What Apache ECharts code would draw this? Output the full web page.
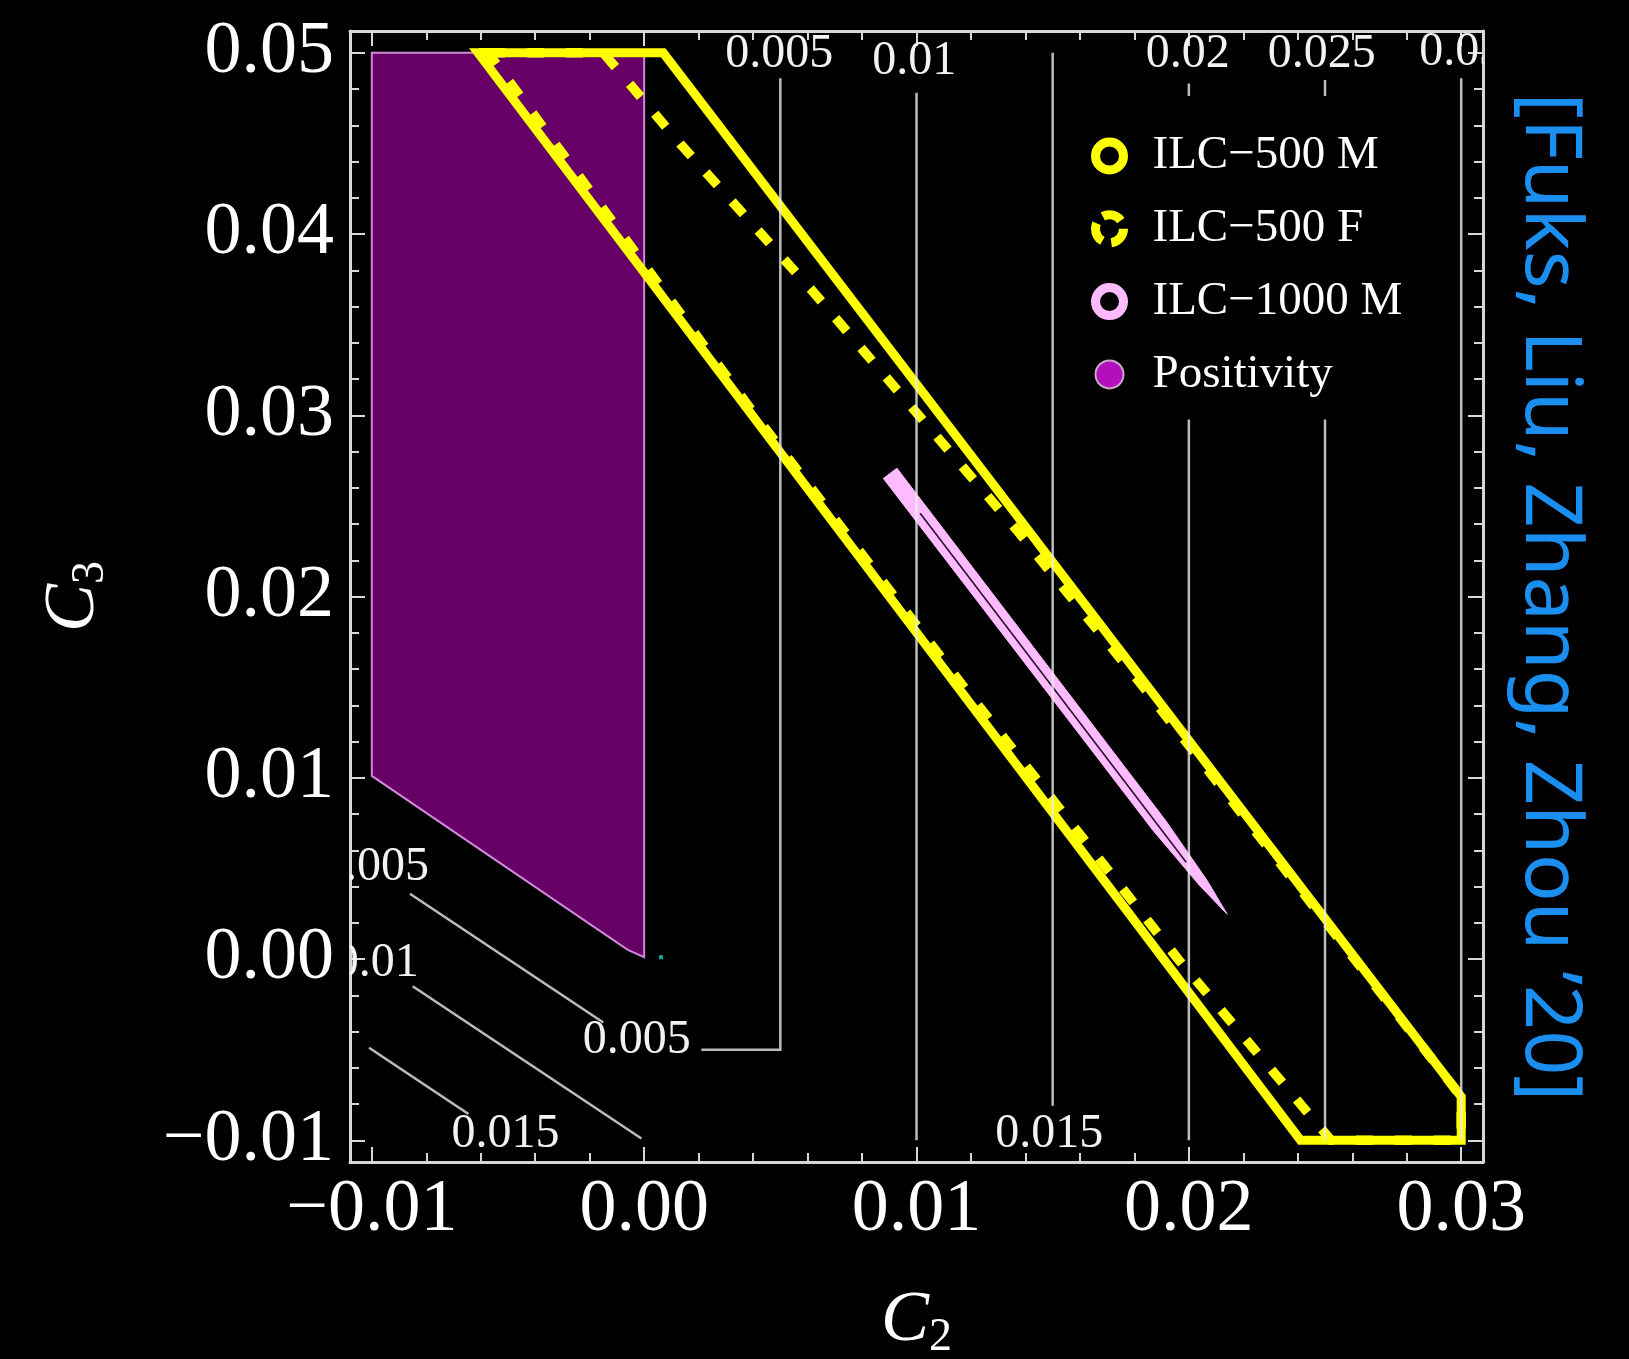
<!DOCTYPE html>
<html><head><meta charset="utf-8">
<script src="https://cdn.jsdelivr.net/npm/echarts@6/dist/echarts.min.js"></script>
<style>html,body{margin:0;padding:0;background:#000;}#c{width:1629px;height:1359px;}</style>
</head><body><div id="c"></div>
<script>
// ---------- axes ----------
const xMin = -0.0108, xMax = 0.0308;
const yMin = -0.0112, yMax = 0.0512;
const xMajorTicks = [-0.01, 0, 0.01, 0.02, 0.03];
const xMinorTicks = [-0.008, -0.006, -0.004, -0.002, 0.002, 0.004, 0.006, 0.008, 0.012, 0.014, 0.016, 0.018, 0.022, 0.024, 0.026, 0.028];
const yMajorTicks = [-0.01, 0, 0.01, 0.02, 0.03, 0.04, 0.05];
const yMinorTicks = [-0.008, -0.006, -0.004, -0.002, 0.002, 0.004, 0.006, 0.008, 0.012, 0.014, 0.016, 0.018, 0.022, 0.024, 0.026, 0.028, 0.032, 0.034, 0.036, 0.038, 0.042, 0.044, 0.046, 0.048];

// ---------- regions (c2, c3) ----------
const positivity = [[-0.01, 0.05], [0, 0.05], [0, 0.0001], [-0.0006, 0.0005], [-0.01, 0.0101]];
const ilc500M = [[-0.0061, 0.05], [0.0007, 0.05], [0.03, -0.0076], [0.03, -0.01], [0.0241, -0.01]];
const ilc500F = [[-0.00573, 0.05], [-0.0015, 0.05], [0.00132, 0.04498], [0.00616, 0.03689], [0.01369, 0.02365],
                 [0.01828, 0.0151], [0.01994, 0.0119], [0.03, -0.0076], [0.03, -0.01], [0.02522, -0.01],
                 [0.0196, 0.0], [0.01174, 0.015], [0.00408, 0.03]];
const ilc1000M = [[0.009281, 0.027080], [0.019166, 0.007604], [0.020673, 0.004326], [0.021408, 0.002471],
                  [0.020410, 0.004030], [0.018699, 0.007068], [0.008784, 0.026510]];
const ilc1000Core = [[0.010134, 0.024589], [0.019902, 0.005339]];
const cyanPoint = [[0.00062, 0.0001]];

// ---------- contour lines ----------
const contour005 = [[0.005, 0.0486], [0.005, -0.005], [0.0021, -0.005]];
const contour005Diag = [[-0.0086, 0.0036], [-0.0015, -0.0035]];
const contour01 = [[0.01, 0.0478], [0.01, -0.01]];
const contour01Diag = [[-0.0085, -0.0015], [-0.0001, -0.0099]];
const contour015 = [[0.015, 0.0500], [0.015, -0.0081]];
const contour015Diag = [[-0.0101, -0.0049], [-0.00645, -0.00855]];
const contour02 = [[0.02, 0.0483], [0.02, -0.01]];
const contour025 = [[0.025, 0.0485], [0.025, -0.01]];
const contour03 = [[0.03, 0.0486], [0.03, -0.01]];
const contourLines = [contour005, contour005Diag, contour01, contour01Diag, contour015, contour015Diag, contour02, contour025, contour03];

const contourLabelText = ['0.005', '0.01', '0.02', '0.025', '0.03', '0.015', '0.015', '0.005', '0.005', '0.01'];
const contourLabelPos = [[0.00496, 0.0499], [0.00992, 0.0495], [0.01996, 0.0499], [0.02488, 0.0499], [0.03, 0.0500],
                         [0.01487, -0.00966], [-0.00509, -0.00969], [-0.00027, -0.00451], [-0.00988, 0.00506], [-0.00982, -0.00025]];

const seriesNames = ['ILC\u2212500 M', 'ILC\u2212500 F', 'ILC\u22121000 M', 'Positivity'];

// ---------- helpers ----------
const frameColor = '#d8d8d8';
const fmt = v => (v < -1e-12 ? '\u2212' : '') + Math.abs(v).toFixed(2);
const serif = 'Liberation Serif';

function polySeries(name, pts, style) {
  return {
    type: 'custom', name: name, coordinateSystem: 'cartesian2d', clip: true, silent: true,
    data: pts,
    renderItem: function (params, api) {
      if (params.dataIndex !== 0) return null;
      return { type: 'polygon', shape: { points: pts.map(p => api.coord(p)) }, style: Object.assign({}, style) };
    }
  };
}

function axisX(pos, major) {
  return {
    type: 'value', position: pos, min: xMin, max: xMax,
    axisLine: { show: major, onZero: false, lineStyle: { color: frameColor, width: 3 } },
    axisTick: { show: true, inside: true, length: major ? 15 : 9, customValues: major ? xMajorTicks : xMinorTicks,
                lineStyle: { color: frameColor, width: 2 } },
    axisLabel: (pos === 'bottom' && major) ? { show: true, customValues: xMajorTicks, formatter: fmt, color: '#fff',
                fontFamily: serif, fontSize: 74, margin: 12 } : { show: false },
    splitLine: { show: false }
  };
}
function axisY(pos, major) {
  return {
    type: 'value', position: pos, min: yMin, max: yMax,
    axisLine: { show: major, onZero: false, lineStyle: { color: frameColor, width: 3 } },
    axisTick: { show: true, inside: true, length: major ? 15 : 9, customValues: major ? yMajorTicks : yMinorTicks,
                lineStyle: { color: frameColor, width: 2 } },
    axisLabel: (pos === 'left' && major) ? { show: true, customValues: yMajorTicks, formatter: fmt, color: '#fff',
                fontFamily: serif, fontSize: 74, margin: 16 } : { show: false },
    splitLine: { show: false }
  };
}

const xAxes = [axisX('bottom', true), axisX('bottom', false), axisX('top', true), axisX('top', false)];
const yAxes = [axisY('left', true), axisY('left', false), axisY('right', true), axisY('right', false)];

const nameRich = {
  i: { fontSize: 72, fontStyle: 'italic', fontFamily: serif, color: '#fff', lineHeight: 80, verticalAlign: 'middle' },
  s: { fontSize: 46, fontFamily: serif, color: '#fff', lineHeight: 36, verticalAlign: 'bottom' }
};
Object.assign(xAxes[0], { name: '{i|C}{s|2}', nameLocation: 'middle', nameGap: 119, nameTextStyle: { rich: nameRich } });
Object.assign(yAxes[0], { name: '{i|C}{s|3}', nameLocation: 'middle', nameGap: 236, nameTextStyle: { rich: nameRich } });

const chart = echarts.init(document.getElementById('c'), null, { renderer: 'canvas' });
chart.setOption({
  animation: false,
  backgroundColor: '#000',
  grid: { left: 350, top: 31, width: 1133, height: 1131, containLabel: false, outerBoundsMode: 'none' },
  xAxis: xAxes,
  yAxis: yAxes,
  legend: {
    orient: 'vertical', left: 1075, top: 96, padding: [32, 40, 17, 16],
    backgroundColor: '#000', itemWidth: 76, itemHeight: 28, itemGap: 16.8, symbolKeepAspect: true,
    selectedMode: false,
    textStyle: { color: '#fff', fontFamily: serif, fontSize: 47, lineHeight: 56 },
    data: [
      { name: seriesNames[0], icon: 'circle', itemStyle: { color: '#000', borderColor: '#ffff00', borderWidth: 9 } },
      { name: seriesNames[1], icon: 'circle', itemStyle: { color: '#000', borderColor: '#ffff00', borderWidth: 9, borderType: [20, 9.3] } },
      { name: seriesNames[2], icon: 'circle', itemStyle: { color: '#000', borderColor: '#ffbbff', borderWidth: 9 } },
      { name: seriesNames[3], icon: 'circle', itemStyle: { color: '#b310bb', borderColor: '#c8a8c8', borderWidth: 2 } }
    ]
  },
  graphic: [{
    type: 'text', x: 1548, y: 597, rotation: -Math.PI / 2, silent: true,
    style: { text: '[Fuks, Liu, Zhang, Zhou \u201920]', fill: '#1b8ff0', font: '79px "Noto Sans"', align: 'center', verticalAlign: 'middle' }
  }],
  series: [
    polySeries(seriesNames[3], positivity, { fill: '#660066', stroke: '#d088d8', lineWidth: 2 }),
    polySeries(seriesNames[1], ilc500F, { fill: 'none', stroke: '#ffff00', lineWidth: 9.5, lineDash: [17, 22], lineJoin: 'miter' }),
    polySeries(seriesNames[0], ilc500M, { fill: 'none', stroke: '#ffff00', lineWidth: 9, lineJoin: 'miter' }),
    {
      type: 'custom', name: seriesNames[2], coordinateSystem: 'cartesian2d', clip: true, silent: true,
      data: ilc1000M,
      renderItem: function (params, api) {
        if (params.dataIndex !== 0) return null;
        return { type: 'group', children: [
          { type: 'polygon', shape: { points: ilc1000M.map(p => api.coord(p)) }, style: { fill: '#ffbbff', stroke: '#ffbbff', lineWidth: 1 } },
          { type: 'polyline', shape: { points: ilc1000Core.map(p => api.coord(p)) }, style: { fill: 'none', stroke: '#2a0f2a', lineWidth: 1.6 } }
        ] };
      }
    },
    {
      type: 'custom', name: 'contours', coordinateSystem: 'cartesian2d', clip: true, silent: true,
      data: contourLines.map(l => l[0]),
      renderItem: function (params, api) {
        const line = contourLines[params.dataIndex];
        return { type: 'polyline', shape: { points: line.map(p => api.coord(p)) },
                 style: { fill: 'none', stroke: 'rgba(235,235,235,0.8)', lineWidth: 2.5 } };
      }
    },
    {
      type: 'custom', name: 'contourLabels', coordinateSystem: 'cartesian2d', clip: true, silent: true,
      data: contourLabelPos,
      renderItem: function (params, api) {
        const p = api.coord([api.value(0), api.value(1)]);
        return { type: 'text', x: p[0], y: p[1],
                 style: { text: contourLabelText[params.dataIndex], fill: '#f2f2f2', font: '48px "Liberation Serif"', align: 'center', verticalAlign: 'middle' } };
      }
    },
    {
      type: 'scatter', name: 'marker', data: cyanPoint, symbol: 'rect', symbolSize: 4, silent: true,
      itemStyle: { color: '#00d0d0' }
    }
  ]
});
</script></body></html>
